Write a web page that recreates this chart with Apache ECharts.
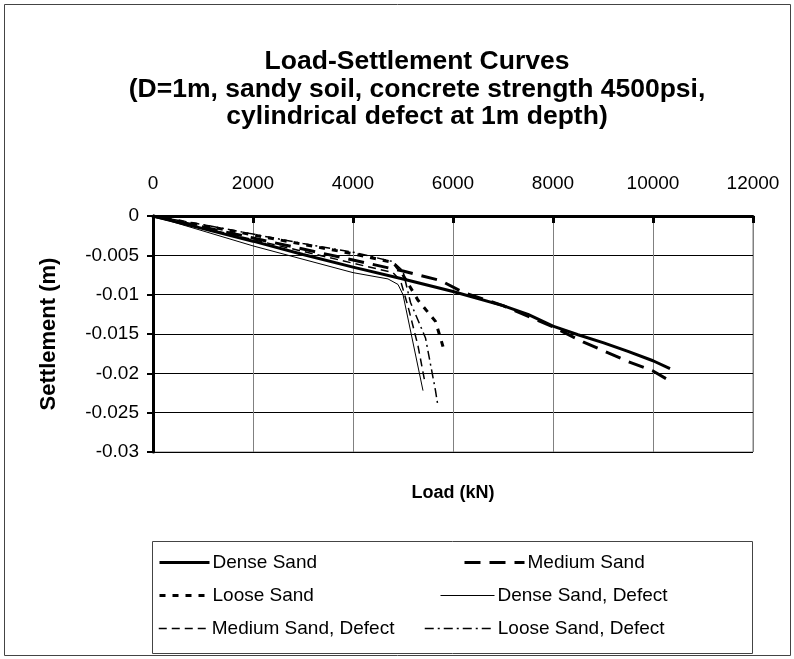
<!DOCTYPE html>
<html>
<head>
<meta charset="utf-8">
<script src="https://cdn.jsdelivr.net/npm/echarts@6/dist/echarts.min.js"></script>
<style>
  html, body { margin: 0; padding: 0; background: #fff; }
  #chart { width: 794px; height: 659px; }
</style>
</head>
<body>
<div id="chart"></div>
<script>
// Load (kN) and settlement (m) for each pile case
const denseLoad = [0, 1000, 2000, 3000, 4000, 5000, 6000, 7000, 7500, 8000, 8500, 9000, 9500, 10000, 10340];
const denseSettle = [0, -0.0016, -0.0032, -0.0049, -0.0065, -0.0080, -0.0096, -0.0114, -0.0125, -0.0140, -0.0151, -0.0161, -0.0172, -0.0184, -0.0194];

const mediumLoad = [0, 1000, 2000, 3000, 4000, 5000, 5750, 6200, 7000, 8000, 8600, 9000, 9500, 10000, 10320];
const mediumSettle = [0, -0.0014, -0.0028, -0.0042, -0.0056, -0.0070, -0.0082, -0.0097, -0.0114, -0.0141, -0.0160, -0.0171, -0.0185, -0.0197, -0.0209];

const looseLoad = [0, 1000, 2000, 3000, 4000, 4800, 5000, 5300, 5650, 5800];
const looseSettle = [0, -0.0012, -0.0024, -0.0036, -0.0048, -0.0059, -0.0075, -0.0107, -0.0134, -0.0166];

const denseDefLoad = [0, 1000, 2000, 3000, 4000, 4700, 4900, 5000, 5400];
const denseDefSettle = [0, -0.0019, -0.0038, -0.0055, -0.0072, -0.0080, -0.0087, -0.0100, -0.0222];

const mediumDefLoad = [0, 1000, 2000, 3000, 4000, 4800, 4950, 5100, 5300, 5440];
const mediumDefSettle = [0, -0.0015, -0.0030, -0.0045, -0.0060, -0.0072, -0.0082, -0.0115, -0.0165, -0.0212];

const looseDefLoad = [0, 1000, 2000, 3000, 4000, 4800, 5000, 5150, 5450, 5650, 5700];
const looseDefSettle = [0, -0.0011, -0.0023, -0.0035, -0.0046, -0.0058, -0.0070, -0.0110, -0.0155, -0.0222, -0.0242];

const seriesNames = ['Dense Sand', 'Medium Sand', 'Loose Sand',
  'Dense Sand, Defect', 'Medium Sand, Defect', 'Loose Sand, Defect'];

const xTicks = { min: 0, max: 12000, step: 2000 };
const yTicks = { min: -0.03, max: 0, step: 0.005 };

const FONT = '"Liberation Sans", Arial, sans-serif';

function pairs(xs, ys) { return xs.map((x, i) => [x, ys[i]]); }

// Line look for each case: thick lines for intact piles, thin for defective ones
const styles = [
  { width: 3, type: 'solid' },
  { width: 3, type: [16, 9] },
  { width: 3, type: [6, 7] },
  { width: 1, type: 'solid' },
  { width: 1.5, type: [8, 5] },
  { width: 1.5, type: [9, 4, 2, 4] }
];

const dataSets = [
  pairs(denseLoad, denseSettle),
  pairs(mediumLoad, mediumSettle),
  pairs(looseLoad, looseSettle),
  pairs(denseDefLoad, denseDefSettle),
  pairs(mediumDefLoad, mediumDefSettle),
  pairs(looseDefLoad, looseDefSettle)
];

const series = seriesNames.map((name, i) => ({
  name: name,
  type: 'line',
  data: dataSets[i],
  symbol: 'none',
  smooth: false,
  z: 10 - i,
  lineStyle: { color: '#000', width: styles[i].width, type: styles[i].type },
  itemStyle: { color: '#000' }
}));

// Legend entries laid out in two columns, three rows
const legendPos = [
  { left: 158, top: 553 },
  { left: 463, top: 553 },
  { left: 158, top: 586 },
  { left: 440, top: 586 },
  { left: 158, top: 619 },
  { left: 424, top: 619 }
];
const legendWidths = [50, 60, 50, 54, 50, 70];

const legends = seriesNames.map((name, i) => ({
  data: [name],
  left: legendPos[i].left,
  top: legendPos[i].top,
  orient: 'horizontal',
  itemWidth: legendWidths[i],
  itemHeight: 16,
  itemGap: 0,
  padding: 0,
  selectedMode: false,
  textStyle: { fontFamily: FONT, fontSize: 19, color: '#000', padding: [0, 0, 0, -2] },
  lineStyle: { width: styles[i].width, type: styles[i].type, color: '#000' },
  itemStyle: { opacity: 0 }
}));

const chart = echarts.init(document.getElementById('chart'), null, { renderer: 'canvas' });

chart.setOption({
  animation: false,
  backgroundColor: '#fff',
  title: {
    text: 'Load-Settlement Curves\n(D=1m, sandy soil, concrete strength 4500psi,\ncylindrical defect at 1m depth)',
    left: 412,
    textAlign: 'center',
    top: 43,
    textStyle: { fontFamily: FONT, fontSize: 26.5, fontWeight: 'bold', color: '#000', lineHeight: 27.5 }
  },
  grid: {
    left: 153, top: 216, width: 600, height: 236,
    show: true, borderColor: '#808080', borderWidth: 1, backgroundColor: '#fff'
  },
  xAxis: {
    type: 'value',
    position: 'top',
    min: xTicks.min, max: xTicks.max, interval: xTicks.step,
    name: 'Load (kN)',
    nameLocation: 'middle',
    nameGap: -286,
    nameTextStyle: { fontFamily: FONT, fontSize: 18, fontWeight: 'bold', color: '#000' },
    axisLine: { show: true, onZero: false, lineStyle: { color: '#000', width: 3 } },
    axisTick: { show: true, inside: true, length: 7, lineStyle: { color: '#000', width: 3 } },
    axisLabel: {
      fontFamily: FONT, fontSize: 19, color: '#000', margin: 23,
      formatter: v => String(v)
    },
    splitLine: { show: true, lineStyle: { color: '#808080', width: 1 } }
  },
  yAxis: {
    type: 'value',
    min: yTicks.min, max: yTicks.max, interval: yTicks.step,
    name: 'Settlement (m)',
    nameLocation: 'middle',
    nameGap: 93,
    nameRotate: 90,
    nameTextStyle: { fontFamily: FONT, fontSize: 22, fontWeight: 'bold', color: '#000' },
    axisLine: { show: true, onZero: false, lineStyle: { color: '#000', width: 3 } },
    axisTick: { show: true, length: 6, lineStyle: { color: '#000', width: 2 } },
    axisLabel: {
      fontFamily: FONT, fontSize: 19, color: '#000', margin: 14,
      formatter: v => String(Number(v.toFixed(3)))
    },
    splitLine: { show: true, lineStyle: { color: '#000', width: 1 } }
  },
  legend: legends,
  graphic: [
    { type: 'rect', shape: { x: 4.5, y: 4.5, width: 786, height: 651 },
      style: { fill: 'none', stroke: '#444', lineWidth: 1 }, z: -1 },
    { type: 'rect', shape: { x: 152.5, y: 541.5, width: 600, height: 112 },
      style: { fill: 'none', stroke: '#444', lineWidth: 1 }, z: -1 }
  ],
  series: series
});
</script>
</body>
</html>
